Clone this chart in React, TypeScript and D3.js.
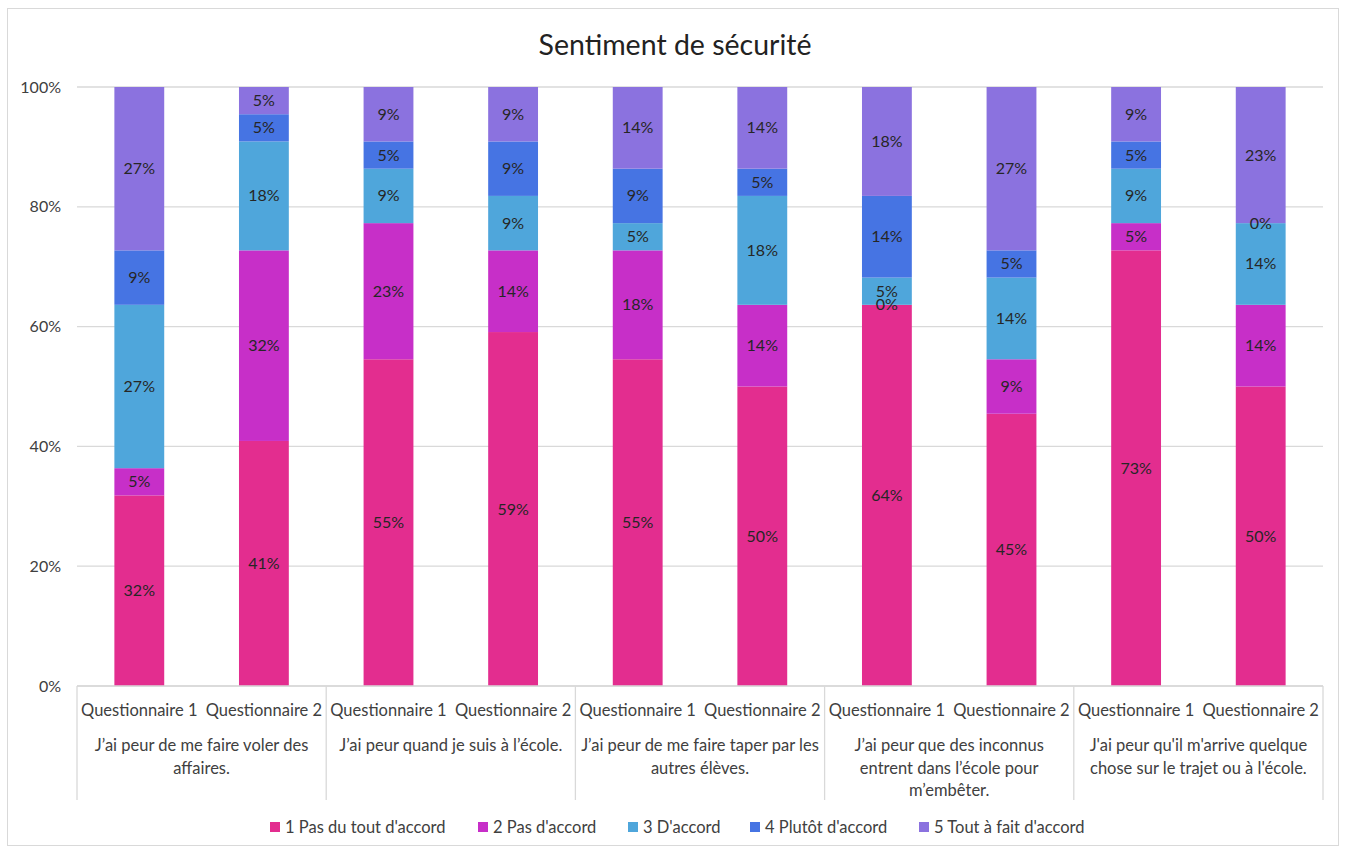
import React from 'react';
import * as d3 from 'd3';

// response counts per bar (22 pupils)
const series = ["1 Pas du tout d'accord", "2 Pas d'accord", "3 D'accord", "4 Plutôt d'accord", "5 Tout à fait d'accord"];
const colors = ['#E32D8F', '#C72FC8', '#4FA6DB', '#4674E3', '#8B72DF'];
const questionnaires = ['Questionnaire 1', 'Questionnaire 2'];
const groups = [
  ['J\u2019ai peur de me faire voler des', 'affaires.'],
  ['J\u2019ai peur quand je suis à l\u2019école.'],
  ['J\u2019ai peur de me faire taper par les', 'autres élèves.'],
  ['J\u2019ai peur que des inconnus', 'entrent dans l\u2019école pour', 'm\u2019embêter.'],
  ["J'ai peur qu'il m'arrive quelque", "chose sur le trajet ou à l'école."],
];
const pasDuTout = [7, 9, 12, 13, 12, 11, 14, 10, 16, 11];
const pasDAccord = [1, 7, 5, 3, 4, 3, 0, 2, 1, 3];
const dAccord = [6, 4, 2, 2, 1, 4, 1, 3, 2, 3];
const plutot = [2, 1, 1, 2, 2, 1, 3, 1, 1, 0];
const toutAFait = [6, 1, 2, 2, 3, 3, 4, 6, 2, 5];
const yTicks = [0, 0.2, 0.4, 0.6, 0.8, 1];

const W = 1346, H = 852;
const left = 77, right = 1323, top = 87, bottom = 686;
const font = 'Lato, "Liberation Sans", sans-serif';

export default function App() {
  const valuesBySeries = [pasDuTout, pasDAccord, dAccord, plutot, toutAFait];
  const rows = pasDuTout.map((_, i) => {
    const r: any = { i };
    series.forEach((s, k) => (r[s] = valuesBySeries[k][i]));
    return r;
  });
  const totals = rows.map((r) => d3.sum(series, (s) => r[s]));
  const stacked = d3.stack<any>().keys(series).offset(d3.stackOffsetExpand)(rows);

  const x = d3.scaleBand<number>().domain(d3.range(rows.length)).range([left, right]).paddingInner(0.6).paddingOuter(0.3);
  const y = d3.scaleLinear().domain([0, 1]).range([bottom, top]);
  const step = x.step();
  const groupW = (right - left) / groups.length;

  // legend layout
  const legendX = [270, 478, 628, 750, 919];

  return (
    <svg width={W} height={H} style={{ position: 'absolute', left: 0, top: 0 }} fontFamily={font}>
      <rect x={7.5} y={8.5} width={1331} height={837} fill="#fff" stroke="#d9d9d9" />
      <text x={675} y={55} textAnchor="middle" fontSize={28.5} fill="#222">Sentiment de sécurité</text>

      {yTicks.map((t) => (
        <g key={t}>
          <line x1={left} x2={right} y1={y(t)} y2={y(t)} stroke="#d9d9d9" strokeWidth={1.3} />
          <text x={61} y={y(t) + 5.5} textAnchor="end" fontSize={16} fill="#404040">{d3.format('.0%')(t)}</text>
        </g>
      ))}

      {stacked.map((layer, k) => (
        <g key={layer.key} fill={colors[k]}>
          {layer.map((d, i) => (
            <rect key={i} x={x(i)} width={x.bandwidth()} y={y(d[1])} height={y(d[0]) - y(d[1])} />
          ))}
        </g>
      ))}
      {stacked.map((layer, k) => (
        <g key={'l' + layer.key}>
          {layer.map((d, i) => (
            <text key={i} x={(x(i) as number) + x.bandwidth() / 2} y={y((d[0] + d[1]) / 2) + 5.5}
              textAnchor="middle" fontSize={16} fill="#262626">
              {Math.round((valuesBySeries[k][i] / totals[i]) * 100) + '%'}
            </text>
          ))}
        </g>
      ))}

      {/* category axis */}
      <line x1={left} x2={right} y1={bottom} y2={bottom} stroke="#d9d9d9" strokeWidth={1.3} />
      {d3.range(groups.length + 1).map((g) => (
        <line key={g} x1={left + g * groupW} x2={left + g * groupW} y1={bottom} y2={800} stroke="#d9d9d9" strokeWidth={1.3} />
      ))}
      {rows.map((r) => (
        <text key={r.i} x={left + step * r.i + step / 2} y={716} textAnchor="middle" fontSize={16.5} fill="#404040">
          {questionnaires[r.i % 2]}
        </text>
      ))}
      {groups.map((lines, g) => (
        <text key={g} textAnchor="middle" fontSize={16.5} fill="#404040">
          {lines.map((ln, j) => (
            <tspan key={j} x={left + g * groupW + groupW / 2} y={751 + j * 22.5}>{ln}</tspan>
          ))}
        </text>
      ))}

      {series.map((s, k) => (
        <g key={s}>
          <rect x={legendX[k]} y={822} width={10} height={10} fill={colors[k]} />
          <text x={legendX[k] + 15} y={833} fontSize={16.5} fill="#404040">{s}</text>
        </g>
      ))}
    </svg>
  );
}
